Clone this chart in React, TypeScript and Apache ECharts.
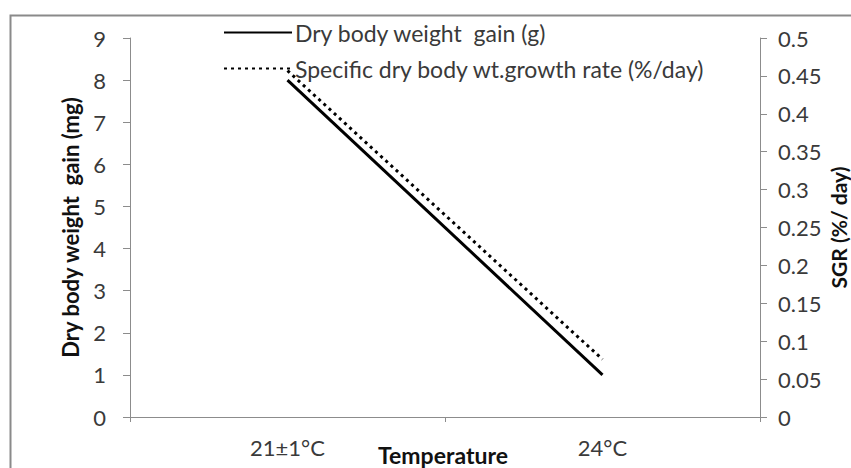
import React, { useEffect, useRef } from "react";
import * as echarts from "echarts";

const categories = ["21±1°C", "24°C"];
const dryWeightGain = [8, 1];
const sgr = [0.457, 0.076];
const leftTicks = { min: 0, max: 9, interval: 1 };
const rightTicks = { min: 0, max: 0.5, interval: 0.05 };
const seriesNames = ["Dry body weight  gain (g)", "Specific dry body wt.growth rate (%/day)"];

const FONT = "Lato, 'Noto Sans', sans-serif";

export default function App() {
  const ref = useRef<HTMLDivElement>(null);
  useEffect(() => {
    if (!ref.current) return;
    const chart = echarts.init(ref.current, null, { renderer: "svg" });
    const axisLine = { show: true, lineStyle: { color: "#8c8c8c", width: 1 } };
    const axisTick = { show: true, length: 7, lineStyle: { color: "#8c8c8c" } };
    chart.setOption({
      animation: false,
      backgroundColor: "#ffffff",
      textStyle: { fontFamily: FONT },
      graphic: [
        {
          type: "rect",
          shape: { x: 10.5, y: 15.5, width: 900, height: 500 },
          style: { fill: "none", stroke: "#8a8a8a", lineWidth: 2 },
          silent: true,
        },
      ],
      legend: {
        orient: "vertical",
        left: 218,
        top: 16,
        itemWidth: 68,
        itemHeight: 14,
        itemGap: 13,
        itemStyle: { opacity: 0 },
        textStyle: { fontFamily: FONT, fontSize: 23, color: "#3a3a3a", padding: [0, 0, 0, -2] },
        data: seriesNames,
      },
      grid: { left: 130, right: 91, top: 38, bottom: 51, containLabel: false, outerBoundsMode: "none" },
      xAxis: {
        type: "category",
        data: categories,
        boundaryGap: true,
        axisLine,
        axisTick: { ...axisTick, length: 5 },
        axisLabel: { fontFamily: FONT, fontSize: 22, color: "#3a3a3a", margin: 19 },
        name: "Temperature",
        nameLocation: "middle",
        nameGap: 26,
        nameMoveOverlap: false,
        nameTextStyle: { fontFamily: FONT, fontSize: 23, fontWeight: "bold", color: "#111", padding: [0, 4, 0, 0] },
        splitLine: { show: false },
      },
      yAxis: [
        {
          type: "value",
          ...leftTicks,
          position: "left",
          axisLine,
          axisTick,
          axisLabel: { fontFamily: FONT, fontSize: 22, color: "#3a3a3a", margin: 24 },
          splitLine: { show: false },
          name: "Dry body weight  gain (mg)",
          nameLocation: "middle",
          nameGap: 49,
          nameMoveOverlap: false,
          nameTextStyle: { fontFamily: FONT, fontSize: 22, fontWeight: "bold", color: "#111" },
        },
        {
          type: "value",
          ...rightTicks,
          position: "right",
          axisLine,
          axisTick,
          axisLabel: { fontFamily: FONT, fontSize: 22, color: "#3a3a3a", margin: 18 },
          splitLine: { show: false },
          name: "SGR (%/ day)",
          nameLocation: "middle",
          nameGap: 68,
          nameRotate: 90,
          nameMoveOverlap: false,
          nameTextStyle: { fontFamily: FONT, fontSize: 21, fontWeight: "bold", color: "#111" },
        },
      ],
      series: [
        {
          name: seriesNames[0],
          type: "line",
          yAxisIndex: 0,
          data: dryWeightGain,
          symbol: "none",
          showSymbol: false,
          lineStyle: { color: "#000", width: 3, type: "solid" },
          itemStyle: { color: "#000" },
        },
        {
          name: seriesNames[1],
          type: "line",
          yAxisIndex: 1,
          data: sgr,
          symbol: "none",
          showSymbol: false,
          lineStyle: { color: "#000", width: 3, type: [3, 4] },
          itemStyle: { color: "#000" },
        },
      ],
    });
    return () => chart.dispose();
  }, []);
  return (
    <div
      ref={ref}
      style={{ position: "fixed", left: 0, top: 0, width: 851, height: 468, background: "#fff" }}
    />
  );
}
